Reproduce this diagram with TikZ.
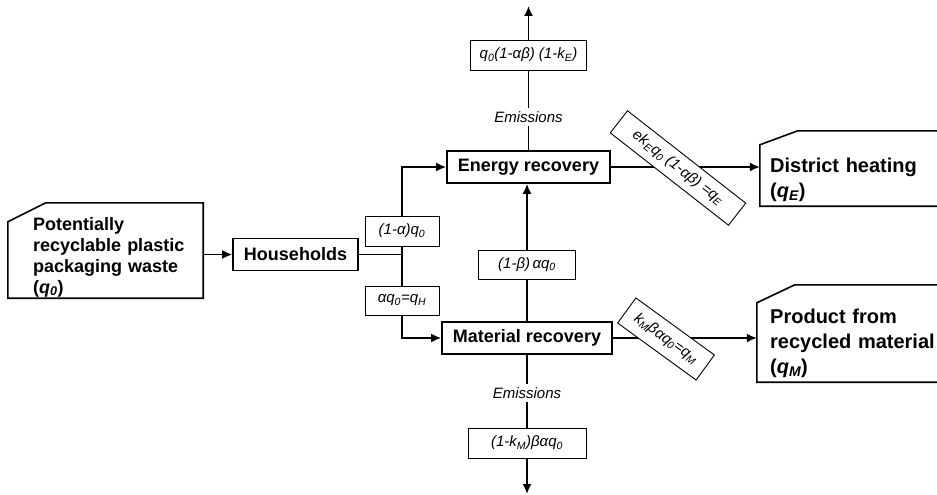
\documentclass[tikz,border=0pt]{standalone}
\usepackage{fontspec}
\setmainfont{Liberation Sans}
\usetikzlibrary{arrows.meta}
\newcommand{\sbx}[1]{\textsubscript{#1}}
\begin{document}
\begin{tikzpicture}[x=1pt,y=-1pt,
  proc/.style={draw, line width=1.6pt, font=\bfseries\fontsize{18}{21}\selectfont, inner sep=0pt, minimum height=32pt},
  frame/.style={draw=none, inner sep=0pt},
  bigtxt/.style={anchor=base west, align=left, inner sep=0pt, font=\bfseries\fontsize{20}{25}\selectfont},
  boxline/.style={line width=1.6pt, line join=miter},
  lab/.style={draw, line width=0.9pt, fill=white, font=\itshape\fontsize{15}{18}\selectfont, inner sep=1pt, minimum height=30pt},
  emis/.style={fill=white, font=\itshape\fontsize{15}{18}\selectfont, inner sep=3pt},
  flow/.style={line width=1.7pt},
  arr/.style={flow, -{Latex[length=10pt,width=9pt]}}]
\useasboundingbox (0,0) rectangle (937,495);

% process boxes
\node[proc, minimum width=125pt] (hh) at (295.5,254.5) {Households};
\node[proc, minimum width=163pt] (er) at (528.5,167) {Energy recovery};
\node[proc, minimum width=170pt] (mr) at (527,338) {Material recovery};

% source box
\node[frame, minimum width=195pt, minimum height=95pt] (src) at (105.5,250.5) {};
\draw[boxline] ([yshift=-19pt]src.north west) -- ([xshift=38pt]src.north west) -- (src.north east) -- (src.south east) -- (src.south west) -- cycle;
\node[anchor=base west, text width=180pt, align=left, inner sep=0pt, font=\bfseries\fontsize{18}{21}\selectfont] (srctxt) at (33,230) {Potentially\\recyclable plastic\\packaging waste\\(\textit{q\sbx{0}})};

% district heating box
\node[frame, minimum width=185pt, minimum height=75pt] (dh) at (852.5,168.5) {};
\draw[boxline] ([yshift=-14pt]dh.north west) -- ([xshift=38pt]dh.north west) -- (dh.north east) -- (dh.south east) -- (dh.south west) -- cycle;
\node[bigtxt, text width=180pt] (dhtxt) at (770,172) {District heating\\(\textit{q\sbx{E}})};

% product box
\node[frame, minimum width=188pt, minimum height=97pt] (pr) at (851,333.5) {};
\draw[boxline] ([yshift=-18pt]pr.north west) -- ([xshift=38pt]pr.north west) -- (pr.north east) -- (pr.south east) -- (pr.south west) -- cycle;
\node[bigtxt, text width=180pt] (prtxt) at (770,323) {Product from\\recycled material\\(\textit{q\sbx{M}})};

% connectors
\coordinate (J) at (402,254.5);
\coordinate (topE) at (528.5,6);
\coordinate (botM) at (527,494);
\draw[arr] (src.east |- hh.west) -- (hh.west);
\draw[flow] (hh.east) -- (J);
\draw[arr] (J) |- (er.west);
\draw[arr] (J) |- (mr.west);
\draw[arr] (mr.north) -- (mr.north |- er.south);
\draw[arr] (er.north) -- (topE);
\draw[arr] (mr.south) -- (botM);
\draw[arr] (er.east) -- (er.east -| dh.west);
\draw[arr] (mr.east) -- (mr.east -| pr.west);

% labels
\node[lab, minimum width=74pt] (l1) at (402,231) {(1-α)q\sbx{0}};
\node[lab, minimum width=74pt, minimum height=29pt] (l2) at (402,300.5) {αq\sbx{0}=q\sbx{H}};
\node[lab, minimum width=97pt, minimum height=29pt] (l3) at (527,264.5) {(1-β)\,αq\sbx{0}};
\node[lab, minimum width=116pt] (l4) at (528.5,55) {q\sbx{0}(1-αβ) (1-k\sbx{E})};
\node[lab, minimum width=118pt] (l7) at (527,443) {(1-k\sbx{M})βαq\sbx{0}};
\node[emis] (e1) at (528.5,117) {Emissions};
\node[emis] (e2) at (527,393) {Emissions};
\node[lab, rotate=-38, minimum width=150pt, minimum height=28pt] (l5) at (678,168) {ek\sbx{E}q\sbx{0} (1-αβ) =q\sbx{E}};
\node[lab, rotate=-36, minimum width=97pt, minimum height=31pt] (l6) at (666,339) {k\sbx{M}βαq\sbx{0}=q\sbx{M}};
\end{tikzpicture}
\end{document}
